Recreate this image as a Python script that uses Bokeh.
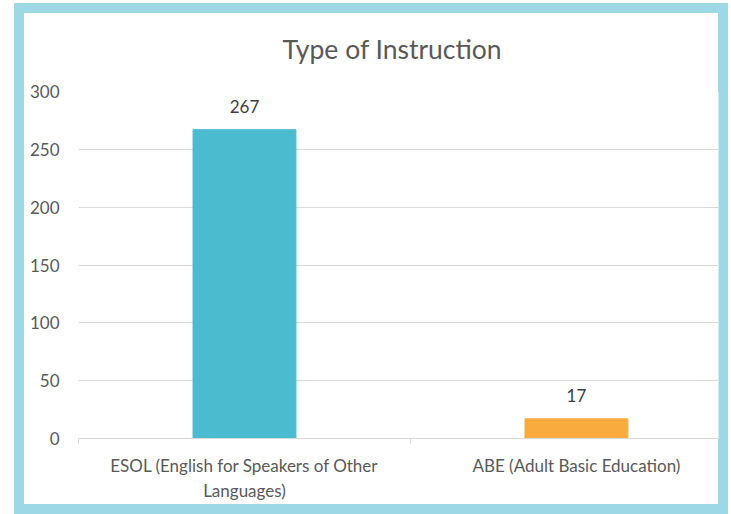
from bokeh.plotting import figure
from bokeh.models import ColumnDataSource, Range1d, FixedTicker
from bokeh.core.properties import value
from bokeh.embed import file_html
from bokeh.resources import INLINE

categories = ["ESOL (English for Speakers of Other Languages)", "ABE (Adult Basic Education)"]
category_labels = ["ESOL (English for Speakers of Other\nLanguages)", "ABE (Adult Basic Education)"]
counts = [267, 17]
bar_colors = ["#4BBCD0", "#F9AC3D"]
y_ticks = [0, 50, 100, 150, 200, 250, 300]
title_text = "Type of Instruction"

xpos = [i + 0.5 for i in range(len(categories))]
src = ColumnDataSource(dict(x=xpos, top=counts, color=bar_colors,
                            label=[str(c) for c in counts]))

FONT = "Lato"
BLUE = "#9DD8E6"
W, H = 714, 511
p = figure(width=W, height=H, output_backend="svg", toolbar_location=None,
           x_range=Range1d(0, 1.928), y_range=Range1d(0, 300),
           min_border_left=64, min_border_right=10, min_border_top=88, min_border_bottom=76,
           outline_line_color=None, background_fill_color="white",
           border_fill_color="white", border_fill_alpha=0.0,
           margin=(3, 0, 0, 14), title=title_text)
p.styles = {"outline": f"10px solid {BLUE}", "outline-offset": "-10px"}

p.title.align = "left"
p.title.offset = 204
p.title.standoff = 54
p.title.text_font = FONT
p.title.text_font_size = "26.5px"
p.title.text_font_style = "normal"
p.title.text_color = "#595959"

p.vbar(x="x", top="top", width=0.31, color="color", source=src)
p.text(x="x", y="top", text="label", source=src, text_align="center", text_baseline="bottom",
       y_offset=-17, text_font=value(FONT), text_font_size="17px", text_color="#404040")

# y axis
p.yaxis.ticker = FixedTicker(ticks=y_ticks)
p.yaxis.axis_line_color = None
p.yaxis.major_tick_line_color = None
p.yaxis.minor_tick_line_color = None
p.yaxis.major_label_standoff = 13
p.yaxis.major_label_text_font = FONT
p.yaxis.major_label_text_font_size = "17px"
p.yaxis.major_label_text_color = "#595959"
p.ygrid.grid_line_color = "#D9D9D9"
p.ygrid.grid_line_width = 1

# x axis
p.xaxis.ticker = FixedTicker(ticks=xpos, minor_ticks=[float(i) for i in range(len(categories) + 1)])
p.xaxis.major_label_overrides = {x: lab for x, lab in zip(xpos, category_labels)}
p.xaxis.axis_line_color = "#D9D9D9"
p.xaxis.major_tick_line_color = None
p.xaxis.minor_tick_line_color = "#D9D9D9"
p.xaxis.minor_tick_out = 5
p.xaxis.minor_tick_in = 0
p.xaxis.major_label_standoff = 10
p.xaxis.major_label_text_font = FONT
p.xaxis.major_label_text_font_size = "17px"
p.xaxis.major_label_text_color = "#595959"
p.xgrid.grid_line_color = None

open("out.html", "w").write(file_html(p, INLINE))
